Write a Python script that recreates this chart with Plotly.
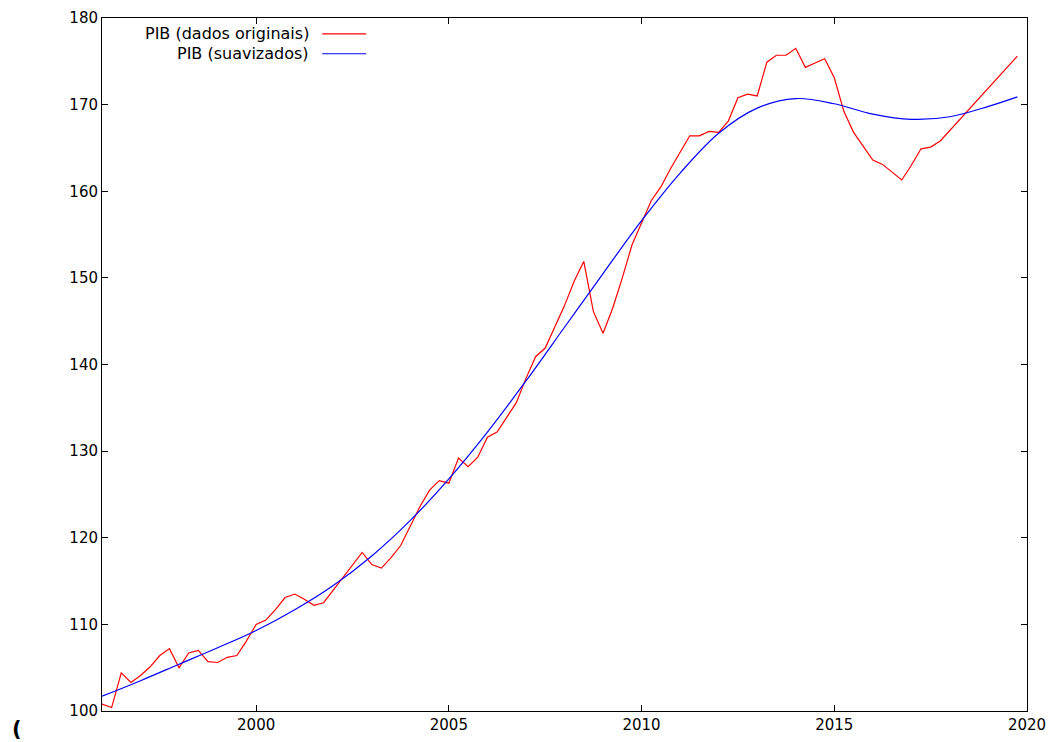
import plotly.graph_objects as go

# --- data ---
series_names = ["PIB (dados originais)", "PIB (suavizados)"]

pib_orig_t = [
    1996.00, 1996.25, 1996.50, 1996.75, 1997.00, 1997.25, 1997.50, 1997.75,
    1998.00, 1998.25, 1998.50, 1998.75, 1999.00, 1999.25, 1999.50, 1999.75,
    2000.00, 2000.25, 2000.50, 2000.75, 2001.00, 2001.25, 2001.50, 2001.75,
    2002.75,
    2003.00, 2003.25, 2003.50, 2003.75, 2004.00, 2004.25, 2004.50, 2004.75,
    2005.00, 2005.25, 2005.50, 2005.75, 2006.00, 2006.25, 2006.50, 2006.75,
    2007.00, 2007.25, 2007.50, 2007.75, 2008.00, 2008.25, 2008.50, 2008.75,
    2009.00, 2009.25, 2009.50, 2009.75, 2010.00, 2010.25, 2010.50, 2010.75,
    2011.00, 2011.25, 2011.50, 2011.75, 2012.00, 2012.25, 2012.50, 2012.75,
    2013.00, 2013.25, 2013.50, 2013.75, 2014.00, 2014.25, 2014.50, 2014.75,
    2015.00, 2015.25, 2015.50, 2015.75, 2016.00, 2016.25, 2016.50, 2016.75,
    2017.00, 2017.25, 2017.50, 2017.75,
    2019.75,
]
pib_orig = [
    100.8, 100.4, 104.4, 103.3, 104.1, 105.1, 106.4, 107.2,
    105.0, 106.7, 107.0, 105.7, 105.6, 106.2, 106.4, 108.1,
    110.0, 110.5, 111.7, 113.1, 113.5, 112.9, 112.2, 112.5,
    118.3,
    116.9, 116.5, 117.7, 119.1, 121.3, 123.6, 125.5, 126.6,
    126.3, 129.2, 128.2, 129.3, 131.6, 132.2, 133.9, 135.6,
    138.4, 140.9, 141.9, 144.4, 146.8, 149.6, 151.9, 146.1,
    143.6, 146.5, 150.0, 153.8, 156.3, 158.9, 160.5, 162.6,
    164.5, 166.4, 166.4, 166.9, 166.8, 168.1, 170.8, 171.2,
    171.0, 174.9, 175.7, 175.7, 176.5, 174.3, 174.8, 175.3,
    173.1, 169.2, 166.8, 165.2, 163.6, 163.1, 162.2, 161.3,
    163.0, 164.9, 165.1, 165.8,
    175.6,
]

pib_suav_t = [
    1996, 1997, 1998, 1999, 2000, 2001, 2002, 2003, 2004, 2005, 2006, 2007,
    2008, 2009, 2010, 2011, 2012, 2013, 2014, 2015, 2016, 2017, 2018, 2019,
    2019.75,
]
pib_suav = [
    101.7, 103.5, 105.4, 107.3, 109.3, 111.7, 114.5, 117.9, 122.0, 126.8, 132.2, 138.1,
    144.3, 150.5, 156.6, 162.1, 166.7, 169.6, 170.7, 170.1, 168.9, 168.3, 168.6, 169.8,
    170.9,
]

x_ticks = [2000, 2005, 2010, 2015, 2020]
y_ticks = [100, 110, 120, 130, 140, 150, 160, 170, 180]
colors = ["#ff0000", "#0000ff"]

FONT = "DejaVu Sans, Verdana, sans-serif"

fig = go.Figure()
fig.add_trace(go.Scatter(x=pib_orig_t, y=pib_orig, mode="lines",
                         line=dict(color=colors[0], width=1.2),
                         name=series_names[0], showlegend=False))
fig.add_trace(go.Scatter(x=pib_suav_t, y=pib_suav, mode="lines",
                         line=dict(color=colors[1], width=1.2, shape="spline", smoothing=1.0),
                         name=series_names[1], showlegend=False))

axis_common = dict(showline=True, linecolor="black", linewidth=1, mirror="ticks",
                   ticks="inside", ticklen=6, tickcolor="black", tickwidth=1,
                   showgrid=False, zeroline=False, automargin=False,
                   tickfont=dict(family=FONT, size=15, color="black"))

fig.update_xaxes(range=[1996, 2020], tickvals=x_ticks,
                 ticktext=[str(v) for v in x_ticks], **axis_common)
fig.update_yaxes(range=[100, 180], tickvals=y_ticks,
                 ticktext=[str(v) for v in y_ticks], **axis_common)

# gnuplot-style key: right-aligned text with the line sample on its right
annotations = []
shapes = []
W, H = 926.0, 693.5
for i, (nm, c) in enumerate(zip(series_names, colors)):
    ypix = 33.3 + 20 * i - 17.5
    yp = 1 - ypix / H
    annotations.append(dict(text=nm, xref="paper", yref="paper",
                            x=(311 - 101.5) / W, y=yp, xanchor="right", yanchor="middle",
                            showarrow=False,
                            font=dict(family=FONT, size=16, color="black")))
    shapes.append(dict(type="line", xref="paper", yref="paper",
                       x0=(322 - 101.5) / W, x1=(366 - 101.5) / W, y0=yp, y1=yp,
                       line=dict(color=c, width=1.2)))

annotations.append(dict(text="<b>(</b>", xref="paper", yref="paper",
                        x=(16 - 101.5) / W, y=(711 - 729) / H,
                        xanchor="center", yanchor="middle", showarrow=False,
                        font=dict(family=FONT, size=21, color="black")))

fig.update_layout(width=1054, height=742,
                  margin=dict(l=101.5, r=26.5, t=17.5, b=31),
                  plot_bgcolor="white", paper_bgcolor="white",
                  annotations=annotations, shapes=shapes,
                  font=dict(family=FONT))

fig.write_html("out.html", config={"displayModeBar": False},
               post_script="document.body.style.margin='0px';document.body.style.overflow='hidden';")
